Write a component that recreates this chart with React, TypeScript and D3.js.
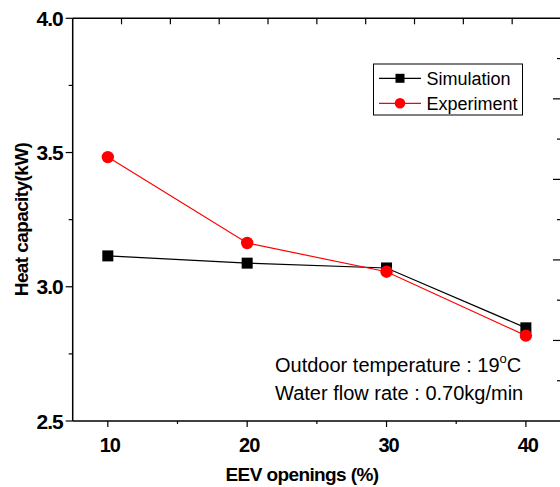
import React from 'react';
import * as d3 from 'd3';

const openings = [10, 20, 30, 40];
const simulation = [3.115, 3.088, 3.07, 2.847];
const experiment = [3.483, 3.163, 3.056, 2.818];
const xTicks = [10, 20, 30, 40];
const xMinorTicks = [15, 25, 35];
const yTicks = [2.5, 3.0, 3.5, 4.0];
const yMinorTicks = [2.75, 3.25, 3.75];
const topTicks = [1, 2, 3, 4, 5, 6, 7, 8, 9];
const rightTicks = [1, 2, 3, 4];
const rightMinorTicks = [0.5, 1.5, 2.5, 3.5, 4.5];

const W = 560;
const H = 487;
const left = 72.7;
const right = 561;
const top = 18.3;
const bottom = 421;
const font = '"Liberation Sans", Arial, sans-serif';

function App() {
  const x = d3.scaleLinear().domain([7.48, 42.52]).range([left, right]);
  const y = d3.scaleLinear().domain([2.5, 4.0]).range([bottom, top]);
  const xTop = d3.scaleLinear().domain([0, 10]).range([left, right]);
  const yRight = d3.scaleLinear().domain([0, 5]).range([bottom, top]);

  const line = d3.line<number>()
    .x((d, i) => x(openings[i]))
    .y(d => y(d));

  return (
    <svg width={W} height={H} style={{ position: 'absolute', left: 0, top: 0, background: '#fff' }}
      fontFamily={font}>
      {/* frame */}
      <g stroke="#000" strokeWidth={1.5} fill="none">
        <line x1={left} x2={left} y1={top} y2={bottom} />
        <line x1={left} x2={right} y1={bottom} y2={bottom} />
        <line x1={left} x2={right} y1={top} y2={top} />
        <line x1={right} x2={right} y1={top} y2={bottom} />
      </g>

      {/* left axis */}
      <g stroke="#000" strokeWidth={1.2}>
        {yTicks.map(t => <line key={t} x1={left - 7} x2={left} y1={y(t)} y2={y(t)} />)}
        {yMinorTicks.map(t => <line key={t} x1={left - 4} x2={left} y1={y(t)} y2={y(t)} />)}
      </g>
      {yTicks.map(t => (
        <text key={t} x={left - 10} y={y(t)} dy="0.36em" textAnchor="end"
          fontSize={21} fontWeight="bold" letterSpacing={-1}>{t.toFixed(1)}</text>
      ))}

      {/* bottom axis */}
      <g stroke="#000" strokeWidth={1.2}>
        {xTicks.map(t => <line key={t} x1={x(t)} x2={x(t)} y1={bottom} y2={bottom + 6} />)}
        {xMinorTicks.map(t => <line key={t} x1={x(t)} x2={x(t)} y1={bottom} y2={bottom + 3} />)}
      </g>
      {xTicks.map(t => (
        <text key={t} x={x(t) + 2} y={452} textAnchor="middle" fontSize={20} fontWeight="bold"
          letterSpacing={-1}>{t}</text>
      ))}

      {/* top and right axes */}
      <g stroke="#000" strokeWidth={1.2}>
        {topTicks.map(t => <line key={t} x1={xTop(t)} x2={xTop(t)} y1={top} y2={top + 6} />)}
        {rightTicks.map(t => <line key={t} x1={right - 8} x2={right} y1={yRight(t)} y2={yRight(t)} />)}
        {rightMinorTicks.map(t => <line key={t} x1={right - 4} x2={right} y1={yRight(t)} y2={yRight(t)} />)}
      </g>

      {/* axis titles */}
      <text x={302} y={481} textAnchor="middle" fontSize={19} fontWeight="bold"
        letterSpacing={-0.6}>EEV openings (%)</text>
      <text transform="translate(28,219.5) rotate(-90)" textAnchor="middle" fontSize={19}
        fontWeight="bold" letterSpacing={-0.6}>Heat capacity(kW)</text>

      {/* series */}
      <path d={line(simulation) ?? ''} fill="none" stroke="#000" strokeWidth={1.2} />
      <path d={line(experiment) ?? ''} fill="none" stroke="#ff0000" strokeWidth={1.2} />
      {simulation.map((v, i) => (
        <rect key={i} x={x(openings[i]) - 5.5} y={y(v) - 5.5} width={11} height={11} fill="#000" />
      ))}
      {experiment.map((v, i) => (
        <circle key={i} cx={x(openings[i])} cy={y(v)} r={6.2} fill="#ff0000" />
      ))}

      {/* legend */}
      <rect x={373.5} y={64} width={149} height={51} fill="#fff" stroke="#000" strokeWidth={1} />
      <line x1={379} x2={421} y1={78.3} y2={78.3} stroke="#000" strokeWidth={1.2} />
      <rect x={395.5} y={73.8} width={9} height={9} fill="#000" />
      <text x={426.5} y={78.3} dy="0.36em" fontSize={18}>Simulation</text>
      <line x1={379} x2={421} y1={103.3} y2={103.3} stroke="#ff0000" strokeWidth={1.2} />
      <circle cx={400} cy={103.3} r={5.3} fill="#ff0000" />
      <text x={426.5} y={103.3} dy="0.36em" fontSize={18}>Experiment</text>

      {/* annotation */}
      <text x={275} y={372} fontSize={20}>
        Outdoor temperature : 19<tspan fontSize={13} dy={-9}>o</tspan><tspan dy={9}>C</tspan>
      </text>
      <text x={275} y={400} fontSize={20}>Water flow rate : 0.70kg/min</text>
    </svg>
  );
}

export default App;
